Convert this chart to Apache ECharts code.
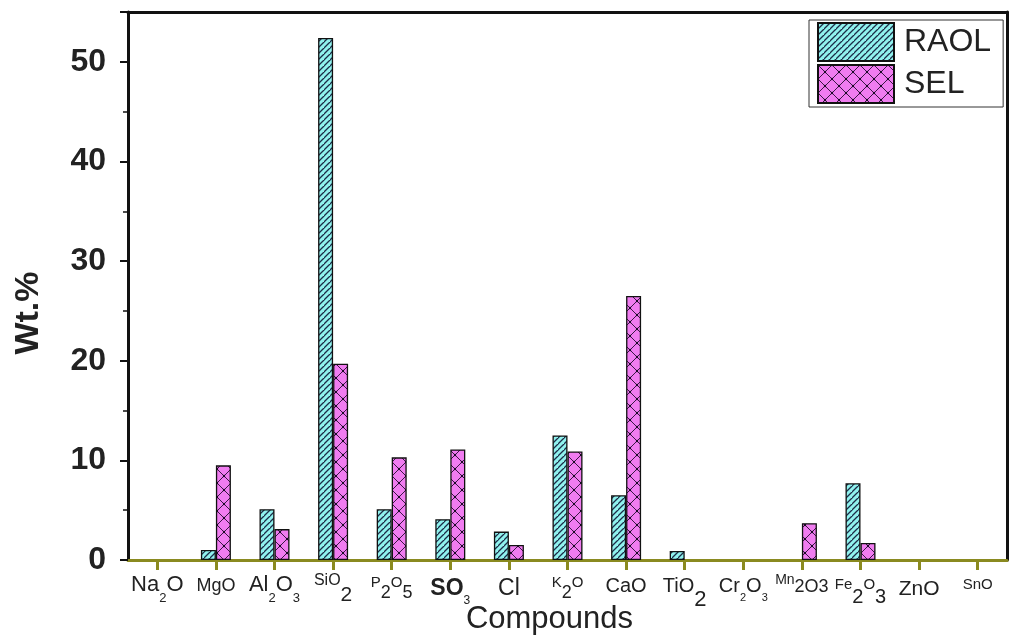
<!DOCTYPE html>
<html>
<head>
<meta charset="utf-8">
<script src="https://cdn.jsdelivr.net/npm/echarts@6/dist/echarts.min.js"></script>
<style>html,body{margin:0;padding:0;background:#fff}#c{width:1026px;height:635px}</style>
</head>
<body>
<div id="c"></div>
<script>
// ---- data ----
const categories = ['Na2O','MgO','Al2O3','SiO2','P2O5','SO3','Cl','K2O','CaO','TiO2','Cr2O3','Mn2O3','Fe2O3','ZnO','SnO'];
const categoryLabels = [
  '{A|Na}{As|2}{A|O}',
  '{M|MgO}',
  '{A|Al}{As|2}{A|O}{As|3}',
  '{Si|SiO}{Si2|2}',
  '{P|P}{P2|2}{P|O}{P2|5}',
  '{SOb|SO}{SO3|3}',
  '{Cl|Cl}',
  '{P|K}{P2|2}{P|O}',
  '{Ca|CaO}',
  '{Ca|TiO}{Ti2|2}',
  '{Ca|Cr}{Crs|2}{Ca|O}{Crs|3}',
  '{Mn|Mn}{Mn2|2O3}',
  '{Fe|Fe}{Fe2|2}{Fe|O}{Fe2|3}',
  '{Zn|ZnO}',
  '{Fe|SnO}'
];
const raol = ['-', 1.0, 5.1, 52.4, 5.1, 4.1, 2.85, 12.5, 6.5, 0.9, '-', '-', 7.7, '-', '-'];
const sel  = ['-', 9.5, 3.1, 19.7, 10.3, 11.1, 1.5, 10.9, 26.5, '-', '-', 3.7, 1.7, '-', '-'];
const yTicks = [0, 10, 20, 30, 40, 50];

const FONT = '"Liberation Sans", Arial, sans-serif';
// rich token styles: [fontSize, target baseline y, bold]
const H = 44, LABEL_TOP = 568, B = LABEL_TOP + H;
function tok(f, base, bold){
  let r = Math.round(B - base - 0.15 * f);
  if (r < 0) r = 0;
  return {fontFamily: FONT, fontSize: f, lineHeight: H, color: '#222', fontWeight: bold ? 'bold' : 'normal',
          verticalAlign: 'bottom', padding: [0, 0, r, 0]};
}
const rich = {
  A: tok(22, 593), As: tok(13, 603), M: tok(18, 592),
  Si: tok(16, 587), Si2: tok(21, 603),
  P: tok(15, 588), P2: tok(18, 599),
  SOb: tok(23, 597, true), SO3: tok(12, 605),
  Cl: tok(23, 597), Ca: tok(20, 593), Ti2: tok(22, 608),
  Crs: tok(11, 601), Mn: tok(14, 585), Mn2: tok(18, 593),
  Fe: tok(15, 590), Fe2: tok(20, 604), Zn: tok(21, 597)
};

function hatch(){
  const s = 6, c = document.createElement('canvas'); c.width = s; c.height = s;
  const g = c.getContext('2d');
  g.fillStyle = '#90f2ee'; g.fillRect(0,0,s,s);
  g.strokeStyle = '#1c2c48'; g.lineWidth = 1.3;
  g.beginPath();
  g.moveTo(-1, s+1); g.lineTo(s+1, -1);
  g.moveTo(-1 - s, s+1); g.lineTo(1, -1);
  g.moveTo(s-1, 2*s+1); g.lineTo(2*s+1, s-1);
  g.stroke();
  return c;
}
function cross(){
  const s = 14, c = document.createElement('canvas'); c.width = s; c.height = s;
  const g = c.getContext('2d');
  g.fillStyle = '#f07cf0'; g.fillRect(0,0,s,s);
  g.strokeStyle = '#3a1846'; g.lineWidth = 1;
  g.beginPath();
  g.moveTo(0,0); g.lineTo(s,s);
  g.moveTo(0,s); g.lineTo(s,0);
  g.stroke();
  g.fillStyle = '#1a0a26';
  [[s/2,s/2],[0,0],[s,0],[0,s],[s,s]].forEach(p=>{g.beginPath();g.arc(p[0],p[1],1.2,0,Math.PI*2);g.fill();});
  return c;
}

const chart = echarts.init(document.getElementById('c'), null, {renderer:'canvas'});
chart.setOption({
  animation: false,
  backgroundColor: '#fff',
  grid: {left: 128, right: 19, top: 12, bottom: 75, containLabel: false, outerBoundsMode: 'none'},
  legend: {
    left: 809, top: 20,
    orient: 'vertical',
    itemWidth: 76, itemHeight: 38, itemGap: 2,
    padding: [2, 12, 3, 8],
    borderColor: '#333', borderWidth: 1,
    textStyle: {fontFamily: FONT, fontSize: 32, color: '#222', padding: [0, 0, 0, 5]},
    data: ['RAOL', 'SEL'],
    icon: 'rect'
  },
  xAxis: [{
    type: 'category',
    data: categories,
    boundaryGap: true,
    axisLine: {show: true, lineStyle: {color: '#8a8a20', width: 3}},
    axisTick: {show: true, alignWithLabel: true, length: 10, lineStyle: {color: '#8a8a20', width: 3}},
    axisLabel: {
      show: true,
      margin: LABEL_TOP - 560,
      interval: 0,
      formatter: (v, i) => categoryLabels[i],
      rich: rich
    },
    name: 'Compounds',
    nameLocation: 'middle',
    nameGap: 44,
    nameMoveOverlap: false,
    nameTextStyle: {fontFamily: FONT, fontSize: 31, color: '#222', padding: [0, 36, 0, 0]},
    splitLine: {show: false}
  }, {
    type: 'category', position: 'top', data: categories,
    axisLine: {show: true, onZero: false, lineStyle: {color: '#111', width: 3}},
    axisTick: {show: false}, axisLabel: {show: false}
  }],
  yAxis: [{
    type: 'value', min: 0, max: 55, interval: 10,
    axisLine: {show: true, lineStyle: {color: '#111', width: 3}},
    axisTick: {show: true, length: 8, lineStyle: {color: '#111', width: 2}},
    minorTick: {show: true, splitNumber: 2, length: 5, lineStyle: {color: '#111', width: 1.5}},
    axisLabel: {fontFamily: FONT, fontSize: 32, fontWeight: 'bold', color: '#222', margin: 22,
      formatter: v => yTicks.indexOf(v) >= 0 ? String(v) : ''},
    splitLine: {show: false},
    name: 'Wt.%',
    nameLocation: 'middle',
    nameGap: 82,
    nameMoveOverlap: false,
    nameTextStyle: {fontFamily: FONT, fontSize: 34, fontWeight: 'bold', color: '#222', padding: [0, 54, 0, 0]}
  }, {
    type: 'value', position: 'right', min: 0, max: 55, interval: 10,
    axisLine: {show: true, onZero: false, lineStyle: {color: '#111', width: 3}},
    axisTick: {show: false}, axisLabel: {show: false}, splitLine: {show: false}
  }],
  series: [{
    name: 'RAOL', type: 'bar', data: raol, barWidth: 15, barGap: '0%',
    itemStyle: {color: {image: hatch(), repeat: 'repeat'}, borderColor: '#111', borderWidth: 1.3}
  }, {
    name: 'SEL', type: 'bar', data: sel, barWidth: 15, barGap: '0%',
    itemStyle: {color: {image: cross(), repeat: 'repeat'}, borderColor: '#111', borderWidth: 1.3}
  }]
});
</script>
</body>
</html>
